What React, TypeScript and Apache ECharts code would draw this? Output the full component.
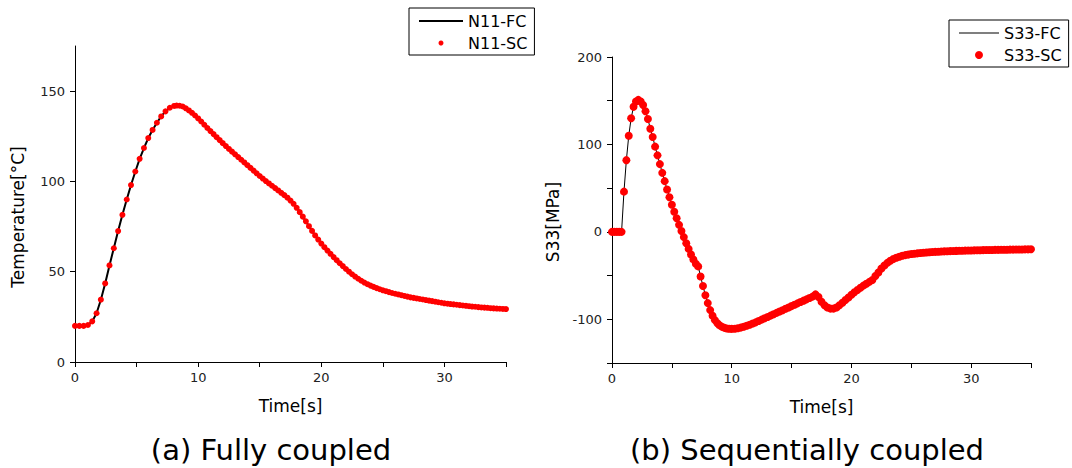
import React, { useEffect, useRef } from "react";
import * as echarts from "echarts";

// ---------- (a) Fully coupled : temperature at node N11 ----------
const tempTime = [
  0, 0.35, 0.7, 1.05, 1.4, 1.75, 2.1, 2.45, 2.8, 3.15, 3.5, 3.85, 4.2, 4.55, 4.9, 5.25, 5.6, 5.95, 6.3, 6.65,
  7, 7.35, 7.7, 8.05,
  8.25, 8.5, 8.75, 9, 9.25, 9.5, 9.75, 10, 10.25, 10.5, 10.75, 11, 11.25, 11.5, 11.75, 12, 12.25, 12.5, 12.75, 13,
  13.25, 13.5, 13.75, 14, 14.25, 14.5, 14.75, 15, 15.25, 15.5, 15.75, 16, 16.25, 16.5, 16.75, 17, 17.25, 17.5, 17.75, 18,
  18.25, 18.5, 18.75, 19, 19.25, 19.5, 19.75, 20, 20.25, 20.5, 20.75, 21, 21.25, 21.5, 21.75, 22, 22.25, 22.5, 22.75, 23,
  23.25, 23.5, 23.75, 24, 24.25, 24.5, 24.75, 25, 25.25, 25.5, 25.75, 26, 26.25, 26.5, 26.75, 27, 27.25, 27.5, 27.75, 28,
  28.25, 28.5, 28.75, 29, 29.25, 29.5, 29.75, 30, 30.25, 30.5, 30.75, 31, 31.25, 31.5, 31.75, 32, 32.25, 32.5, 32.75, 33,
  33.25, 33.5, 33.75, 34, 34.25, 34.5, 34.75, 35,
];
const tempFC = [
  20, 20, 20, 20.5, 22.5, 27, 34.5, 43.5, 53.5, 63, 72.5, 81.5, 90, 98, 105.5, 112.5, 118.5, 124, 128.5, 132.5,
  136, 138.8, 140.8, 141.8,
  142, 141.9, 141.5, 140.5, 139.3, 138, 136.5, 134.9, 133.2, 131.4, 129.6, 127.9, 126.2, 124.5, 122.9, 121.2, 119.6, 118, 116.5, 115,
  113.5, 112, 110.5, 109, 107.5, 106, 104.5, 103, 101.6, 100.2, 98.9, 97.6, 96.3, 95, 93.7, 92.4, 91, 89.4, 87.6, 85.4,
  83, 80.5, 77.9, 75.2, 72.6, 70.1, 67.8, 65.6, 63.6, 61.7, 59.9, 58.1, 56.4, 54.7, 53.1, 51.5, 50, 48.6, 47.3, 46.1,
  45, 44, 43.1, 42.3, 41.6, 40.9, 40.3, 39.7, 39.2, 38.7, 38.2, 37.8, 37.4, 37, 36.6, 36.2, 35.8, 35.5, 35.2, 34.9,
  34.6, 34.3, 34, 33.7, 33.4, 33.1, 32.8, 32.5, 32.3, 32.1, 31.9, 31.7, 31.5, 31.3, 31.1, 30.9, 30.7, 30.6, 30.4, 30.2,
  30.1, 30, 29.8, 29.7, 29.6, 29.5, 29.4, 29.3,
];
// the sequentially coupled dots sit on the fully coupled curve
const tempSC = tempFC;

// ---------- (b) Sequentially coupled : stress S33 ----------
const stressTime = [
  0, 0.2, 0.4, 0.6, 0.8, 1, 1.2, 1.4, 1.6, 1.8, 2, 2.2, 2.4, 2.6, 2.8, 3, 3.2, 3.4, 3.6, 3.8,
  4, 4.2, 4.4, 4.6, 4.8, 5, 5.2, 5.4, 5.6, 5.8, 6, 6.2, 6.4, 6.6, 6.8, 7, 7.2, 7.4, 7.6, 7.8,
  8, 8.2, 8.4, 8.6, 8.8, 9, 9.2, 9.4, 9.6, 9.8, 10,
  10.25, 10.5, 10.75, 11, 11.25, 11.5, 11.75, 12, 12.25, 12.5, 12.75, 13, 13.25, 13.5, 13.75, 14, 14.25, 14.5, 14.75, 15,
  15.25, 15.5, 15.75, 16, 16.25, 16.5, 16.75, 17, 17.25, 17.5, 17.75, 18, 18.25, 18.5, 18.75, 19, 19.25, 19.5, 19.75, 20,
  20.25, 20.5, 20.75, 21, 21.25, 21.5, 21.75, 22, 22.25, 22.5, 22.75, 23, 23.25, 23.5, 23.75, 24, 24.25, 24.5, 24.75, 25,
  25.25, 25.5, 25.75, 26, 26.25, 26.5, 26.75, 27, 27.25, 27.5, 27.75, 28, 28.25, 28.5, 28.75, 29, 29.25, 29.5, 29.75, 30,
  30.25, 30.5, 30.75, 31, 31.25, 31.5, 31.75, 32, 32.25, 32.5, 32.75, 33, 33.25, 33.5, 33.75, 34, 34.25, 34.5, 34.75, 35,
];
const stressFC = [
  0, 0, 0, 0, 0, 46, 82, 110, 130, 143, 149, 151, 149, 145, 138, 129, 118, 108.5, 97.5, 87.5,
  77.5, 67.5, 58, 48.5, 39.5, 31, 23, 15.5, 8, 1, -6, -13, -19.5, -26, -31.5, -36.5, -39.5, -51, -62, -72.5,
  -81.5, -89.5, -96, -101, -104.5, -107, -108.7, -109.8, -110.5, -110.9, -111,
  -110.8, -110.3, -109.5, -108.5, -107.4, -106.2, -104.9, -103.5, -102, -100.4, -98.9, -97.3, -95.8, -94.2, -92.7, -91.1, -89.6, -88, -86.5, -84.9,
  -83.4, -81.8, -80.3, -78.7, -77.2, -75.6, -74.1, -71.5, -74.5, -80, -84, -86.5, -87.8, -87.8, -86.5, -84, -81, -78, -75, -72,
  -69, -66.5, -64, -61.5, -59.3, -57.2, -55, -50.5, -46.5, -42, -38.5, -35.5, -33, -31, -29.6, -28.4, -27.4, -26.6, -26, -25.4,
  -25, -24.6, -24.2, -23.9, -23.6, -23.3, -23.1, -22.9, -22.7, -22.5, -22.3, -22.1, -22, -21.9, -21.8, -21.7, -21.6, -21.5, -21.4, -21.3,
  -21.2, -21.1, -21, -20.9, -20.8, -20.8, -20.7, -20.6, -20.6, -20.5, -20.4, -20.4, -20.3, -20.3, -20.2, -20.1, -20.1, -20, -20, -19.9,
];
const stressSC = stressFC;

const seriesNames = ["N11-FC", "N11-SC", "S33-FC", "S33-SC"];
const panelTitles = ["(a) Fully coupled", "(b) Sequentially coupled"];
const axisNames = { time: "Time[s]", temp: "Temperature[°C]", stress: "S33[MPa]" };

const FONT = "DejaVu Sans";

const pairs = (xs: number[], ys: number[]) => xs.map((x, i) => [x, ys[i]]);

function timeAxis(gridIndex: number) {
  return {
    type: "value",
    gridIndex,
    min: 0,
    max: 35,
    interval: 5,
    name: axisNames.time,
    nameLocation: "middle",
    nameGap: 35,
    nameTextStyle: { fontFamily: FONT, fontSize: 17, color: "#000" },
    axisLine: { show: true, onZero: false, lineStyle: { color: "#000", width: 1 } },
    axisTick: { show: true, length: 5, lineStyle: { color: "#000", width: 1 } },
    axisLabel: {
      fontFamily: FONT,
      fontSize: 13,
      color: "#222",
      margin: 9,
      formatter: (v: number) => (v % 10 === 0 && v < 35 ? String(v) : ""),
    },
    splitLine: { show: false },
  };
}

export default function App() {
  const ref = useRef<HTMLDivElement>(null);
  useEffect(() => {
    if (!ref.current) return;
    const chart = echarts.init(ref.current, null, { renderer: "svg" });
    chart.setOption({
      animation: false,
      backgroundColor: "#fff",
      grid: [
        { left: 75, top: 46, width: 431, height: 316 },
        { left: 612, top: 57, width: 419, height: 306 },
      ],
      xAxis: [timeAxis(0), timeAxis(1)],
      yAxis: [
        {
          type: "value",
          gridIndex: 0,
          min: 0,
          max: 175,
          interval: 50,
          name: axisNames.temp,
          nameLocation: "middle",
          nameGap: 49,
          nameTextStyle: { fontFamily: FONT, fontSize: 17, color: "#000", padding: [0, 26, 0, 0] },
          axisLine: { show: true, onZero: false, lineStyle: { color: "#000", width: 1 } },
          axisTick: { show: true, length: 5, lineStyle: { color: "#000", width: 1 } },
          axisLabel: { fontFamily: FONT, fontSize: 13, color: "#222", margin: 10, showMaxLabel: false },
          splitLine: { show: false },
        },
        {
          type: "value",
          gridIndex: 1,
          min: -150,
          max: 200,
          interval: 50,
          name: axisNames.stress,
          nameLocation: "middle",
          nameGap: 51,
          nameTextStyle: { fontFamily: FONT, fontSize: 17, color: "#000", padding: [0, 24, 0, 0] },
          axisLine: { show: true, onZero: false, lineStyle: { color: "#000", width: 1 } },
          axisTick: { show: true, length: 5, lineStyle: { color: "#000", width: 1 } },
          axisLabel: {
            fontFamily: FONT,
            fontSize: 13,
            color: "#222",
            margin: 10,
            formatter: (v: number) => (v % 100 === 0 ? String(v) : ""),
          },
          splitLine: { show: false },
        },
      ],
      legend: [
        {
          left: 409,
          top: 8,
          orient: "vertical",
          itemWidth: 44,
          itemHeight: 5,
          itemGap: 6,
          padding: [5, 7, 4, 10],
          borderColor: "#000",
          borderWidth: 1,
          backgroundColor: "#fff",
          textStyle: { fontFamily: FONT, fontSize: 16, color: "#000" },
          data: [
            { name: seriesNames[0], icon: "path://M0,0H44V2H0Z" },
            { name: seriesNames[1], icon: "circle" },
          ],
        },
        {
          left: 949,
          top: 20,
          orient: "vertical",
          itemWidth: 40,
          itemHeight: 8,
          itemGap: 6,
          padding: [5, 7, 4, 10],
          borderColor: "#000",
          borderWidth: 1,
          backgroundColor: "#fff",
          textStyle: { fontFamily: FONT, fontSize: 16, color: "#000" },
          data: [
            { name: seriesNames[2], icon: "path://M0,0H40V1H0Z" },
            { name: seriesNames[3], icon: "circle" },
          ],
        },
      ],
      series: [
        {
          name: seriesNames[0],
          type: "line",
          xAxisIndex: 0,
          yAxisIndex: 0,
          data: pairs(tempTime, tempFC),
          symbol: "none",
          lineStyle: { color: "#000", width: 2 },
          itemStyle: { color: "#000" },
          z: 2,
        },
        {
          name: seriesNames[1],
          type: "scatter",
          xAxisIndex: 0,
          yAxisIndex: 0,
          data: pairs(tempTime, tempSC),
          symbol: "circle",
          symbolSize: 6,
          itemStyle: { color: "#ff0000", opacity: 1 },
          z: 3,
        },
        {
          name: seriesNames[2],
          type: "line",
          xAxisIndex: 1,
          yAxisIndex: 1,
          data: pairs(stressTime, stressFC),
          symbol: "none",
          lineStyle: { color: "#000", width: 1 },
          itemStyle: { color: "#000" },
          z: 2,
        },
        {
          name: seriesNames[3],
          type: "scatter",
          xAxisIndex: 1,
          yAxisIndex: 1,
          data: pairs(stressTime, stressSC),
          symbol: "circle",
          symbolSize: 8,
          itemStyle: { color: "#ff0000", opacity: 1 },
          z: 3,
        },
      ],
      graphic: [
        {
          type: "text",
          x: 271,
          y: 450,
          style: {
            text: panelTitles[0],
            fontFamily: FONT,
            fontSize: 29,
            fill: "#000",
            align: "center",
            verticalAlign: "middle",
          },
        },
        {
          type: "text",
          x: 807,
          y: 450,
          style: {
            text: panelTitles[1],
            fontFamily: FONT,
            fontSize: 29,
            fill: "#000",
            align: "center",
            verticalAlign: "middle",
          },
        },
      ],
    });
    return () => chart.dispose();
  }, []);
  return (
    <div
      ref={ref}
      style={{ position: "absolute", left: 0, top: 0, width: 1072, height: 468, background: "#fff" }}
    />
  );
}
